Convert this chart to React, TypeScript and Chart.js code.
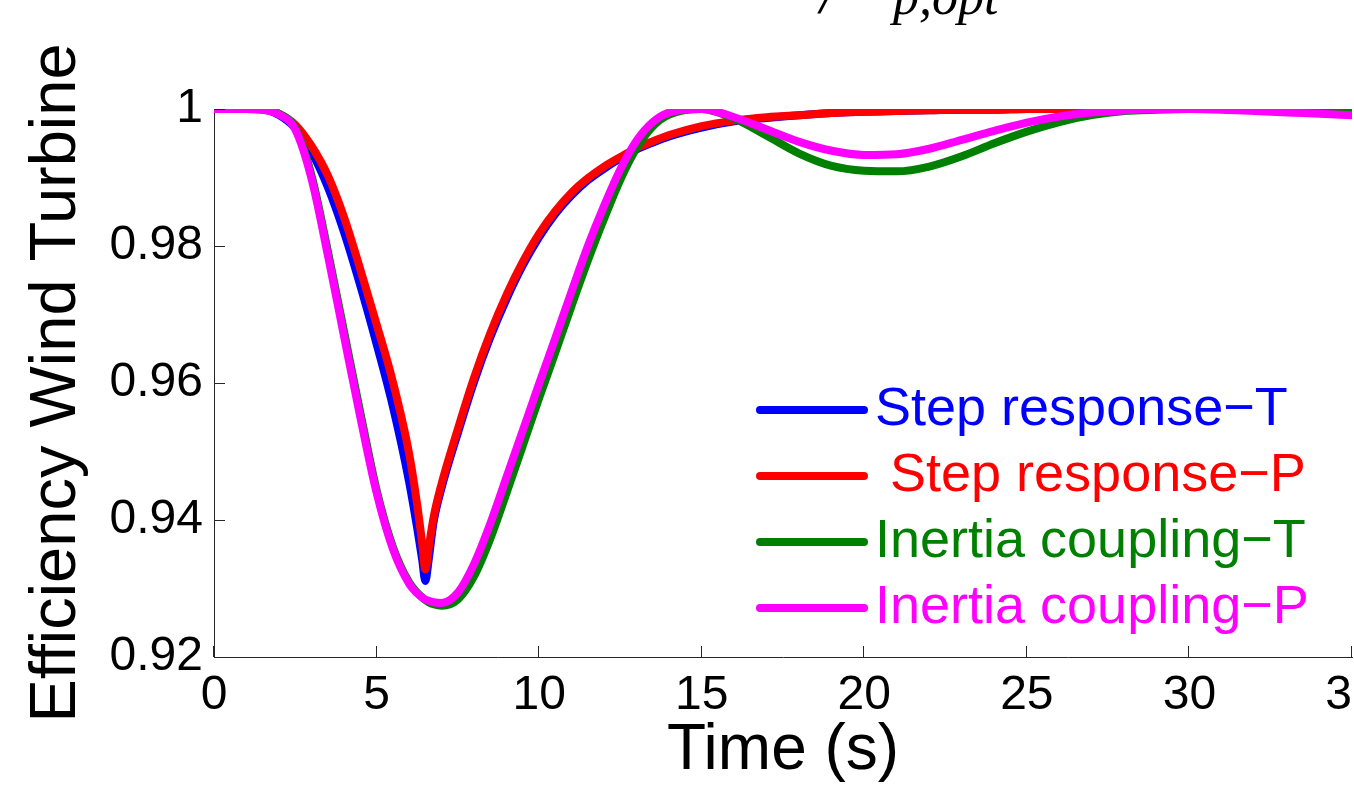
import React, { useEffect, useRef } from 'react';
import { Chart, registerables } from 'chart.js';

Chart.register(...registerables);

// ---- data ----
const timeS = [0, 1, 1.5, 2, 2.5, 3, 3.5, 4, 4.5, 5,
  5.5, 6, 6.25, 6.4, 6.5, 6.6, 6.75, 7,
  7.5, 8, 8.5, 9, 9.5, 10,
  10.5, 11, 11.5, 12, 12.5, 13, 13.5, 14,
  15, 16, 17, 18, 19, 20, 21, 22, 23, 24, 25, 26, 27, 28, 29, 30, 31, 32, 33, 34, 35];

const stepResponseT = [1.0, 1.0, 1.0, 0.9991, 0.9972, 0.9937, 0.9886, 0.9820, 0.9742, 0.9657,
  0.9566, 0.9456, 0.9388, 0.9343, 0.9311, 0.9341, 0.9396, 0.9447,
  0.9527, 0.9602, 0.9667, 0.9723, 0.9772, 0.9813,
  0.9847, 0.9874, 0.9896, 0.9913, 0.9928, 0.9941, 0.9951, 0.9960,
  0.9973, 0.9982, 0.9987, 0.9991, 0.9994, 0.9996, 0.9997, 0.9998, 0.9999, 0.9999, 1.0, 1.0, 1.0, 1.0, 1.0, 1.0, 1.0, 1.0, 1.0, 1.0, 1.0];

const stepResponseP = [1.0, 1.0, 1.0, 0.9993, 0.9977, 0.9946, 0.9903, 0.9842, 0.9766, 0.9686,
  0.9602, 0.9497, 0.9422, 0.9367, 0.9328, 0.9358, 0.9403, 0.9453,
  0.9533, 0.9608, 0.9673, 0.9729, 0.9777, 0.9818,
  0.9851, 0.9878, 0.9899, 0.9916, 0.9930, 0.9943, 0.9953, 0.9962,
  0.9975, 0.9983, 0.9988, 0.9991, 0.9994, 0.9996, 0.9997, 0.9998, 0.9999, 0.9999, 1.0, 1.0, 1.0, 1.0, 1.0, 1.0, 1.0, 1.0, 1.0, 1.0, 1.0];

const inertiaCouplingT = [1.0, 1.0, 0.9999, 0.9993, 0.9972, 0.9903, 0.9793, 0.9675, 0.9557, 0.9444,
  0.9361, 0.9309, 0.9294, 0.9287, 0.9283, 0.9280, 0.9277, 0.9275,
  0.9284, 0.9318, 0.9373, 0.9440, 0.9509, 0.9578,
  0.9645, 0.9713, 0.9779, 0.9840, 0.9897, 0.9943, 0.9975, 0.9992,
  1.0, 0.9986, 0.9961, 0.9935, 0.9917, 0.9910, 0.9909, 0.9916, 0.9931, 0.9950, 0.9967, 0.9981, 0.9991, 0.9997, 0.9999, 1.0, 1.0, 0.9999, 0.9999, 0.9998, 0.9997];

const inertiaCouplingP = [1.0, 1.0, 0.9999, 0.9992, 0.9970, 0.9898, 0.9787, 0.9668, 0.9550, 0.9440,
  0.9358, 0.9307, 0.9293, 0.9287, 0.9284, 0.9282, 0.9280, 0.9279,
  0.9294, 0.9336, 0.9395, 0.9463, 0.9531, 0.9599,
  0.9666, 0.9734, 0.9800, 0.9859, 0.9912, 0.9954, 0.9981, 0.9995,
  1.0, 0.9988, 0.9970, 0.9952, 0.9939, 0.9933, 0.9934, 0.9942, 0.9955, 0.9968, 0.9980, 0.9989, 0.9995, 0.9998, 1.0, 1.0, 0.9999, 0.9997, 0.9995, 0.9993, 0.9991];

const seriesLabels = ['Step response\u2212T', ' Step response\u2212P', 'Inertia coupling\u2212T', 'Inertia coupling\u2212P'];
const seriesColors = ['#0000ff', '#ff0000', '#008000', '#ff00ff'];
const seriesValues = [stepResponseT, stepResponseP, inertiaCouplingT, inertiaCouplingP];
const seriesOrder = [4, 3, 2, 1];

const xTickValues = [0, 5, 10, 15, 20, 25, 30, 35];
const xTickLabels = ['0', '5', '10', '15', '20', '25', '30', '35'];
const yTickValues = [0.92, 0.94, 0.96, 0.98, 1];
const yTickLabels = ['0.92', '0.94', '0.96', '0.98', '1'];

const xTitle = 'Time (s)';
const yTitle = 'Efficiency Wind Turbine';
const titleMain = '/';
const titleSub = 'p,opt';

const SANS = '"Liberation Sans", Arial, Helvetica, sans-serif';
const SERIF = '"Liberation Serif", "Times New Roman", serif';
const AXIS_COLOR = '#262626';

const decorPlugin = {
  id: 'decor',
  afterDraw(chart: any) {
    const ctx = chart.ctx;
    const area = chart.chartArea;
    const xs = chart.scales.x;
    const ys = chart.scales.y;
    ctx.save();
    // inward tick marks
    ctx.strokeStyle = AXIS_COLOR;
    ctx.lineWidth = 1;
    ctx.beginPath();
    xTickValues.forEach((v) => {
      const px = Math.round(xs.getPixelForValue(v)) - 0.5;
      ctx.moveTo(px, area.bottom);
      ctx.lineTo(px, area.bottom - 11);
    });
    yTickValues.forEach((v) => {
      const py = Math.round(ys.getPixelForValue(v)) + 0.5;
      ctx.moveTo(area.left, py);
      ctx.lineTo(area.left + 11, py);
    });
    ctx.stroke();

    // legend
    const rowY = [410, 476, 542, 608];
    ctx.lineCap = 'round';
    ctx.lineWidth = 8;
    ctx.font = `54px ${SANS}`;
    ctx.textBaseline = 'middle';
    ctx.textAlign = 'left';
    seriesLabels.forEach((lab, i) => {
      ctx.strokeStyle = seriesColors[i];
      ctx.beginPath();
      ctx.moveTo(760, rowY[i]);
      ctx.lineTo(864, rowY[i]);
      ctx.stroke();
      ctx.fillStyle = seriesColors[i];
      ctx.fillText(lab, 875, rowY[i]);
    });

    // partially visible title (cut off at the top)
    ctx.fillStyle = '#000';
    ctx.textBaseline = 'alphabetic';
    ctx.font = `italic 60px ${SERIF}`;
    ctx.fillText(titleMain, 820, 13);
    ctx.font = `italic 52px ${SERIF}`;
    ctx.fillText(titleSub, 893, 14);
    ctx.restore();
  },
};

export default function App() {
  const ref = useRef<HTMLCanvasElement>(null);

  useEffect(() => {
    if (!ref.current) return;
    const datasets = seriesValues.map((vals, i) => ({
      label: seriesLabels[i].trim(),
      data: timeS.map((t, k) => ({ x: t, y: vals[k] })),
      borderColor: seriesColors[i],
      backgroundColor: seriesColors[i],
      borderWidth: 8,
      borderCapStyle: 'round' as const,
      borderJoinStyle: 'round' as const,
      pointRadius: 0,
      cubicInterpolationMode: 'monotone' as const,
      fill: false,
      order: seriesOrder[i],
    }));

    const chart = new Chart(ref.current, {
      type: 'line',
      data: { datasets },
      options: {
        responsive: false,
        animation: false,
        events: [],
        layout: { padding: { top: 109, right: 2, left: 0, bottom: 0 } },
        plugins: {
          legend: { display: false },
          tooltip: { enabled: false },
          title: { display: false },
        },
        scales: {
          x: {
            type: 'linear',
            min: 0,
            max: 35,
            afterBuildTicks: (s: any) => {
              s.ticks = xTickValues.map((v) => ({ value: v }));
            },
            afterFit: (s: any) => {
              s.height = 129;
              s.paddingLeft = 0;
              s.paddingRight = 0;
            },
            grid: { display: false, drawTicks: false, tickLength: 0 },
            border: { display: true, color: AXIS_COLOR, width: 1 },
            ticks: {
              autoSkip: false,
              maxRotation: 0,
              minRotation: 0,
              padding: 10,
              color: '#000',
              font: { family: SANS, size: 48, lineHeight: 1.2 },
              callback: (_v: any, i: number) => xTickLabels[i],
            },
            title: {
              display: true,
              text: xTitle,
              color: '#000',
              font: { family: SANS, size: 64, lineHeight: 1 },
              padding: { top: 0, bottom: 3 },
            },
          },
          y: {
            type: 'linear',
            min: 0.92,
            max: 1,
            afterBuildTicks: (s: any) => {
              s.ticks = yTickValues.map((v) => ({ value: v }));
            },
            afterFit: (s: any) => {
              s.width = 214;
              s.paddingTop = 0;
              s.paddingBottom = 0;
            },
            grid: { display: false, drawTicks: false, tickLength: 0 },
            border: { display: true, color: AXIS_COLOR, width: 1 },
            ticks: {
              autoSkip: false,
              padding: 11,
              color: '#000',
              font: { family: SANS, size: 48, lineHeight: 1.2 },
              callback: (_v: any, i: number) => yTickLabels[i],
            },
            title: {
              display: true,
              text: yTitle,
              color: '#000',
              font: { family: SANS, size: 65, lineHeight: 1 },
              padding: { top: 25, bottom: 0 },
            },
          },
        },
      },
      plugins: [decorPlugin],
    } as any);

    return () => chart.destroy();
  }, []);

  return (
    <div style={{ position: 'absolute', left: 0, top: 0, width: 1354, height: 786, overflow: 'hidden', background: '#fff' }}>
      <canvas ref={ref} width={1354} height={786} style={{ display: 'block', width: 1354, height: 786 }} />
    </div>
  );
}
